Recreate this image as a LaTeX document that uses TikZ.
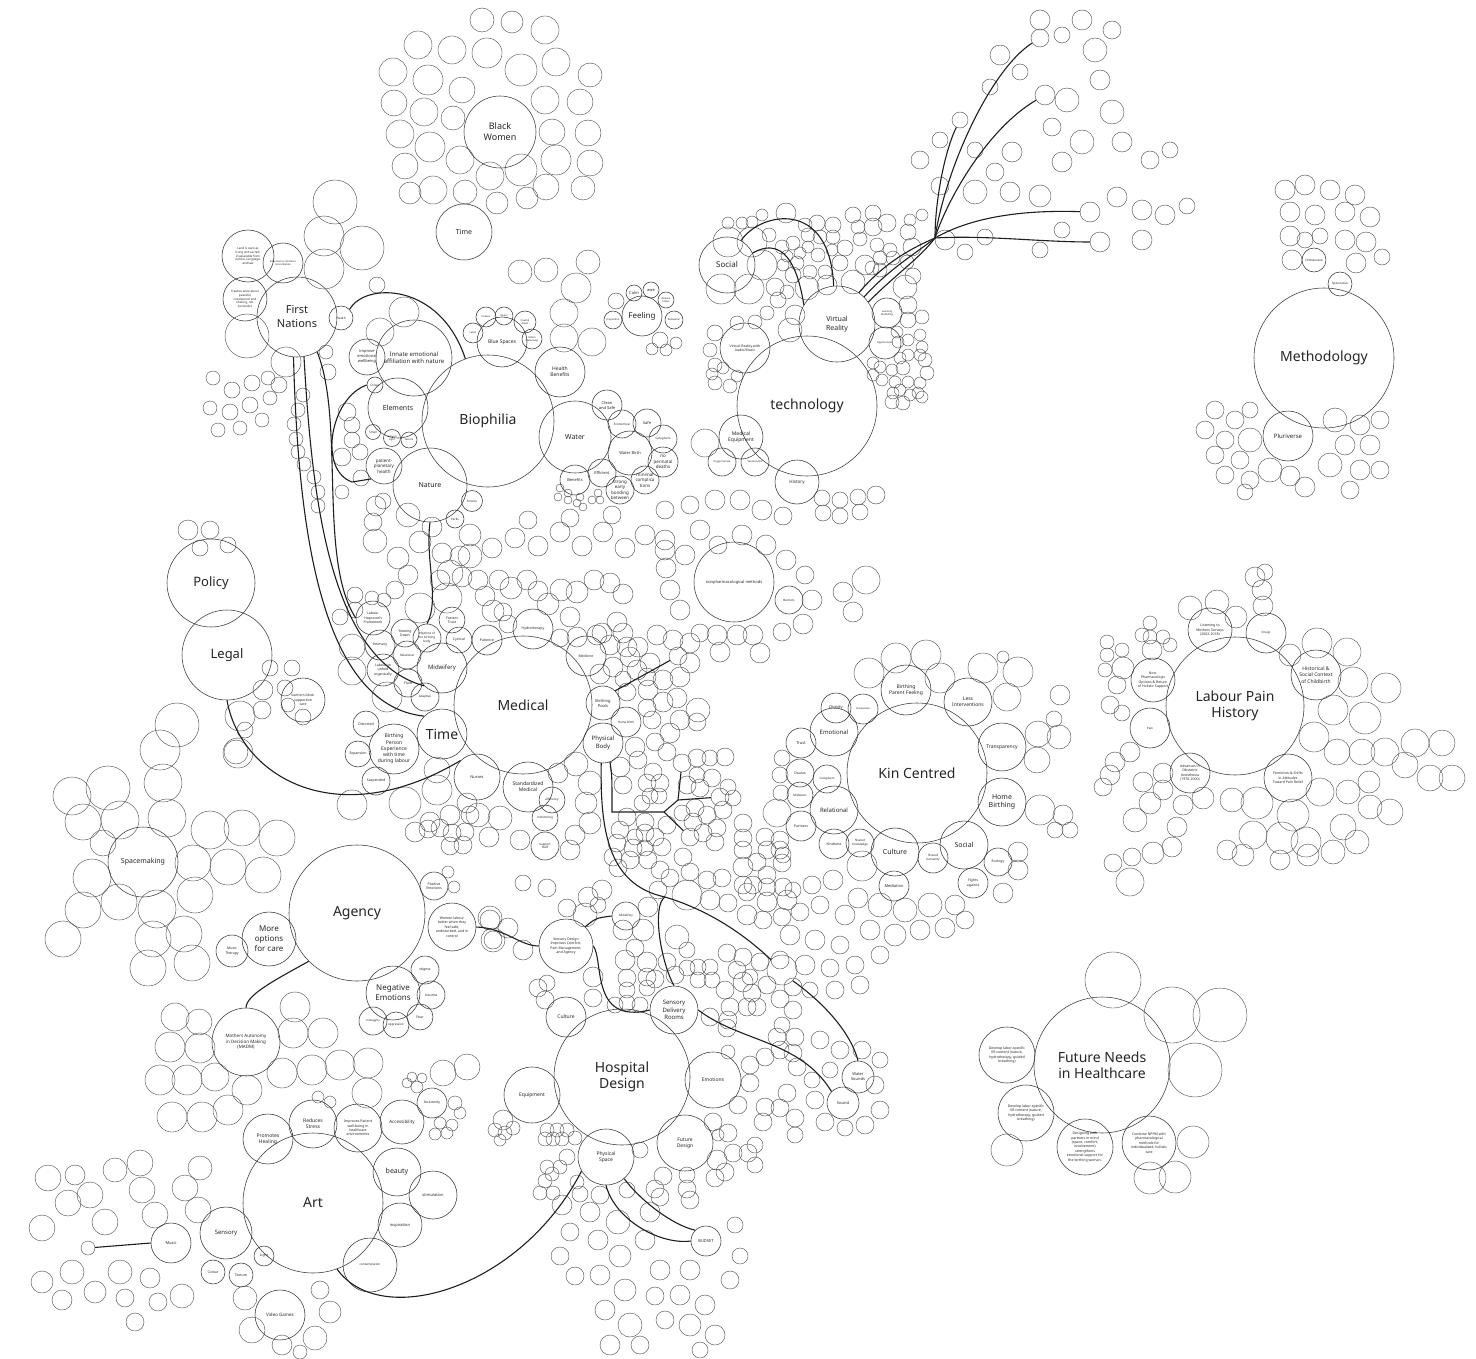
\documentclass[tikz,border=0pt]{standalone}
\usepackage{fontspec}
\setmainfont{Noto Sans}
\begin{document}
\begin{tikzpicture}[x=1pt,y=-1pt,
 bub/.style={circle,draw=black!78,line width=0.55pt,inner sep=0pt,align=center,text=black!85},
 smc/.style={circle,draw=black!72,line width=0.4pt,inner sep=0pt},
 conn/.style={line width=1.1pt,draw=black!88},
 f14/.style={font=\fontsize{14}{16.5}\selectfont},
 f13/.style={font=\fontsize{13}{15.5}\selectfont},
 f11/.style={font=\fontsize{11}{14}\selectfont},
 f9/.style={font=\fontsize{9}{11}\selectfont},
 f8/.style={font=\fontsize{8}{10}\selectfont},
 f7/.style={font=\fontsize{7}{8.6}\selectfont},
 f6/.style={font=\fontsize{6}{7.4}\selectfont},
 f5/.style={font=\fontsize{5}{6.2}\selectfont},
 f45/.style={font=\fontsize{4.5}{5.6}\selectfont},
 f4/.style={font=\fontsize{4}{5}\selectfont},
 f35/.style={font=\fontsize{3.5}{4.4}\selectfont},
 f3/.style={font=\fontsize{3}{3.8}\selectfont},
 f25/.style={font=\fontsize{2.5}{3.1}\selectfont}]
\fill[white] (0,0) rectangle (1476,1359);
\useasboundingbox (0,0) rectangle (1476,1359);

% ---------------- small unlabeled circles ----------------
\foreach \x/\y/\r [count=\i] in {482/20/12,512/22/11,545/30/14,418/45/14,452/50/14,487/53/15,521/70/16,556/62/14,590/75/12,393/72/14,428/80/15,462/90/13,394/103/13,424/112/14,453/118/12,545/100/14,580/102/13,400/134/14,430/147/15,460/160/14,490/176/14,521/170/16,552/132/13,556/160/15,588/133/13,590/163/13,405/166/13,465/192/12,410/193/11,546/187/13,583/188/12,497/203/11,527/198/11,433/190/14}
  \node[smc,minimum size=2*\r] (bw\i) at (\x,\y) {};
\foreach \x/\y/\r [count=\i] in {335/202/22,324/236/20,362/248/22,324/269/20,377/285/8,404/312/15,380/332/14,326/352/7,328/372/8,279/385/8,213/378/7,232/390/8,252/383/8,268/378/7,270/398/7,250/405/8,230/412/8,210/408/7,262/420/7,240/428/7,218/430/7,286/362/15,247/336/22,303/395/7,298/410/7,294/424/7,296/439/7,298/452/7,304/464/7,314/477/7,318/492/7,318/506/7,347/412/9,352/425/8,352/440/8,342/457/9,360/452/8,361/478/8,383/501/8,342/492/7}
  \node[smc,minimum size=2*\r] (fa\i) at (\x,\y) {};
\foreach \x/\y/\r [count=\i] in {376/506/10,373/522/9,408/515/12,432/527/10,375/541/12,398/558/11,420/542/11,442/553/10,408/575/10,440/580/10,470/556/12,462/577/10,395/590/9,616/301/8,660/340/8,676/343/6,652/349/6,666/350/6,576/288/15,564/313/14,564/338/14,592/342/14,520/272/12,546/270/12,588/262/12,560/488/4,568/493/4,568/500/4,580/497/4,577/503/4,583/507/4,592/500/4,600/500/4,598/493/4,558/497/4}
  \node[smc,minimum size=2*\r] (bb\i) at (\x,\y) {};
% medical grid
\foreach \x/\y/\r [count=\i] in {450/573/13,447/598/15,420/608/15,478/580/10,485/596/10,493/611/11,499/580/10,511/588/11,527/580/10,538/591/10,548/604/11,561/590/11,577/592/11,594/580/10,610/583/10,623/594/10,570/617/10,577/637/10,560/638/9,602/633/10,617/622/10,627/647/10,613/667/10,600/674/10,623/679/8,508/624/9,503/612/9,470/535/11,492/548/10,515/538/10,538/546/10,560/532/10,582/546/10,603/532/10,625/548/10,645/535/10,665/550/10,528/520/9,570/518/9,612/515/9,460/556/10,355/595/8,372/598/7,384/600/7,355/610/8,340/617/8,352/647/13,352/671/14,387/697/15}
  \node[smc,minimum size=2*\r] (mg\i) at (\x,\y) {};
\foreach \x/\y/\r [count=\i] in {597/635/10,610/645/10,623/633/10,638/647/10,630/657/10,650/663/10,637/670/10,647/677/9,663/680/10,680/677/10,657/635/10,673/640/10,690/643/10,700/633/9,717/635/10,737/635/10,753/635/10,760/653/10,720/652/10,690/663/10,627/692/9,648/690/10,663/702/10,677/698/10,647/708/9,698/710/12,680/720/10,697/722/9,652/720/9,670/733/10,655/742/9,667/752/9,635/747/10,638/760/9,653/772/9,620/767/10,660/783/9,647/783/9,623/785/9,650/796/8,642/803/8,659/796/8}
  \node[smc,minimum size=2*\r] (mr\i) at (\x,\y) {};
\foreach \x/\y/\r [count=\i] in {682/763/9,697/758/9,710/758/8,725/757/9,687/785/9,700/788/9,697/775/8,712/778/9,720/797/9,728/787/8,733/798/8,723/810/9,682/813/8,695/808/9,707/815/9,693/822/9,690/837/9,703/833/9,717/828/9,715/842/9,627/817/9,645/822/9,667/825/9,645/833/9,620/830/9,635/837/8,655/837/9,617/843/9,633/848/9,645/848/8,662/847/9,613/857/9,630/860/9,648/860/9,618/868/9,683/857/9,690/872/9,660/870/9,670/878/9,707/880/9,722/878/9,743/823/9,743/838/9,743/850/9,743/867/10,743/885/9,765/837/9,767/850/9,780/850/9,757/862/9,767/875/9,753/885/9,767/887/9,782/863/9,783/887/9,793/890/8}
  \node[smc,minimum size=2*\r] (te\i) at (\x,\y) {};
% below time / around nurses / agency
\foreach \x/\y/\r [count=\i] in {352/805/15,405/803/16,437/770/13,437/790/15,467/803/10,478/815/12,500/818/12,450/815/10,430/822/10,415/832/10,520/840/10,570/850/10,575/835/10,576/764/12,558/773/10,590/783/12,586/803/11,590/823/11,428/829/9,440/828/9,452/833/9,465/832/9,463/845/9,450/846/9,470/815/9,489/837/10,448/872/6,454/887/6,490/918/12,493/940/12,188/530/10,210/530/9,200/548/8,228/545/8,263/690/10,285/688/8,262/710/9,236/752/12,245/730/8,292/668/8,270/668/8}
  \node[smc,minimum size=2*\r] (bt\i) at (\x,\y) {};
% kin centred surroundings
\foreach \x/\y/\r [count=\i] in {869/673/15,896/658/15,926/655/15,940/678/15,983/668/15,1003/657/6,1018/672/15,1007/697/14,1060/695/10,1054/719/8,1059/737/12,1038/734/13,1037/760/13,1040/810/15,1063/815/10,1055/830/8,1070/830/8,1018/852/10,1018/870/10,1003/893/10,862/866/15,782/758/8,780/775/8,781/793/8,777/813/14,780/840/9,783/855/8,812/885/9,833/880/10,858/898/10,880/905/12,905/910/12,930/905/12,955/905/10,845/915/10,820/905/9,800/912/9,870/930/10,895/935/11,920/930/10,945/928/10,965/920/9,790/935/10,815/940/10,840/945/9,780/960/9,805/965/10,830/968/9,855/965/9,880/955/9,860/985/9,835/990/9,810/990/8}
  \node[smc,minimum size=2*\r] (ks\i) at (\x,\y) {};
% nonpharmacological cluster
\foreach \x/\y/\r [count=\i] in {665/540/10,685/555/10,700/530/10,718/545/9,742/535/10,766/545/10,786/560/10,805/575/9,812/600/10,803/624/10,782/632/9,680/610/10,670/590/10,666/568/10,665/510/9,690/505/9,715/500/10,740/500/10,762/510/10,783/516/9,866/580/14,843/592/10,853/612/10}
  \node[smc,minimum size=2*\r] (np\i) at (\x,\y) {};
% sensory design / delivery cluster
\foreach \x/\y/\r [count=\i] in {523/883/8,547/888/9,490/920/10,508/928/10,493/940/9,523/950/10,585/915/12,567/908/9,588/897/10,602/890/10,598/905/8,623/930/10,643/930/11,648/907/10,658/890/9,635/948/9,625/960/10,647/962/10,627/978/9,647/977/9,627/990/8,647/988/8,615/1005/8,627/1003/8,640/1005/8,655/979/9,593/977/10,593/998/9,538/988/9,547/983/8,545/1000/9,667/962/9,677/937/12,687/950/8,675/975/9,687/968/8,698/967/8,710/967/8,698/980/8,712/980/8,725/990/9,743/982/10,752/993/9,730/1007/9,747/1007/9,728/1020/9,757/1007/9,710/1017/9,727/1028/9,687/895/15,710/900/10,728/903/9,747/892/9,747/915/10,767/902/10,787/900/10,782/917/9,763/920/9,727/953/9,743/957/9,760/962/9,737/970/9,750/977/8,767/985/9,793/987/9,780/999/9,793/1010/9,777/1037/9,782/1025/8,795/1037/9,780/1050/9,793/1053/9,797/1067/9,765/1057/9,787/1093/9,780/1108/9,765/1107/9,763/1122/9,795/1118/9,795/1135/8,820/1040/9,840/1050/9,862/1050/9,880/1060/8,875/1085/9,880/1110/9,865/1125/9,845/1128/8,825/1122/9,815/1100/9,812/1080/8,830/1070/8}
  \node[smc,minimum size=2*\r] (sc\i) at (\x,\y) {};
% hospital lower
\foreach \x/\y/\r [count=\i] in {503/1120/10,495/1130/7,505/1133/7,513/1128/7,500/1140/6,547/1130/7,557/1130/7,567/1130/7,545/1139/7,553/1139/7,562/1139/7,575/1138/7,567/1157/8,560/1167/7,547/1167/7,552/1174/7,545/1181/7,577/1182/7,580/1194/8,540/1193/7,553/1193/7,640/1150/8,713/1122/9,728/1133/9,718/1135/6,728/1052/7,750/1065/9,750/1083/9,738/1105/9,717/1160/10,733/1153/9,748/1153/9,755/1165/8,755/1145/8,725/1172/9,715/1178/9,687/1175/8,687/1189/9,663/1176/9,655/1189/9,660/1197/9,690/1200/9,627/1190/8,600/1195/9,562/1205/10,590/1212/10,618/1222/12,598/1240/10,620/1256/11,600/1275/10,625/1290/11,605/1310/10,630/1325/12,610/1345/10,640/1345/9,570/1232/9,560/1256/9,575/1276/9,650/1212/10,660/1270/10,690/1270/10,680/1295/10,705/1305/10,690/1325/11,715/1335/10,665/1320/9,700/1350/8,730/1280/9,740/1256/8,735/1225/8,655/1296/9,645/1240/10}
  \node[smc,minimum size=2*\r] (hl\i) at (\x,\y) {};
% art surroundings
\foreach \x/\y/\r [count=\i] in {48/1178/13,68/1203/13,42/1228/13,72/1272/12,42/1282/11,90/1195/13,105/1222/13,120/1272/12,95/1292/11,62/1300/10,140/1163/13,142/1190/13,155/1215/13,115/1170/12,185/1188/13,200/1168/12,198/1210/13,75/1175/10,125/1298/9,150/1278/10,135/1322/9,158/1302/9,182/1296/12,245/1298/12,252/1330/13,282/1345/10,315/1338/12,330/1312/11,320/1290/9,300/1352/7}
  \node[smc,minimum size=2*\r] (ar\i) at (\x,\y) {};
% mothers autonomy cluster
\foreach \x/\y/\r [count=\i] in {175/1017/14,199/1022/13,170/1047/15,200/1048/15,160/1080/15,187/1080/15,215/1077/14,247/1090/15,228/1110/15,172/1117/15,202/1117/15,295/1007/15,293/1033/15,323/1033/15,282/1073/15,312/1070/15,340/1065/15,368/1063/15,367/1093/15,318/1097/6,330/1102/6,443/1073/13,467/1067/13,412/1077/5,422/1078/5,417/1087/6,407/1083/5,455/1103/7,460/1113/6,440/1123/6,452/1125/6,435/1134/6,447/1133/6}
  \node[smc,minimum size=2*\r] (ma\i) at (\x,\y) {};
% spacemaking cluster
\foreach \x/\y/\r [count=\i] in {177/725/22,240/716/15,238/753/15,160/750/20,163/783/19,167/818/19,108/788/22,72/796/19,120/820/19,83/822/18,103/843/13,210/830/19,242/828/18,277/838/18,193/863/18,228/867/18,263/875/18,195/895/18,92/878/19,119/902/18,83/910/18,157/909/19,63/939/18,153/939/18,184/934/18,148/968/18,192/963/18,288/705/7,303/717/8}
  \node[smc,minimum size=2*\r] (sp\i) at (\x,\y) {};
% technology cluster
\foreach \x/\y/\r [count=\i] in {786/213/10,762/215/6,752/222/6,742/223/6,728/223/6,769/235/7,805/225/7,817/223/8,833/225/8,808/235/7,820/237/7,833/237/7,793/243/7,782/247/7,800/253/6,787/256/6,818/255/7,808/247/6,797/263/7,783/265/6,810/272/7,793/275/8,825/272/7,840/263/8,845/248/8,832/250/6,865/265/10,853/282/12,827/285/10,807/288/12,775/287/9,778/300/8,787/292/7,795/315/10,767/313/7,790/330/12,853/215/8,873/213/8,873/227/9,887/223/9,858/227/7,860/239/7,877/245/7,890/250/7,880/258/7,893/258/7,872/268/7,880/270/7,905/287/12,913/276/8,907/262/7,908/232/8,922/215/6,910/220/6,912/247/9,908/305/9,908/320/8,922/317/7,897/332/6,898/342/6,908/340/6,920/335/6,922/347/6,920/355/6,908/355/6,900/358/6,903/368/7,892/370/6,880/367/6,873/363/6,873/375/6,882/380/6,895/382/6,908/382/6,920/383/6,918/393/6,910/395/6,900/390/6,893/393/6,892/402/7,903/403/7,922/397/6,925/360/7,927/373/7,737/323/7,755/322/7,715/333/8,710/350/7,715/365/7,723/368/6,712/374/6,715/383/7,730/386/7,737/376/6,705/443/14,822/498/8,840/500/8,858/497/8,876/495/9,860/512/8,840/516/8,823/513/8,728/242/15,752/242/15,762/265/15,749/289/15,721/289/15}
  \node[smc,minimum size=2*\r] (tc\i) at (\x,\y) {};
% tree (top right)
\foreach \x/\y/\r [count=\i] in {1040/20/10,1062/35/8,1082/20/10,1095/50/12,1112/30/9,1000/55/10,1020/72/8,990/87/8,1067/100/12,1100/80/10,1112/112/12,1052/127/9,1082/142/12,1122/142/10,1150/160/9,1170/150/8,1062/162/10,1012/152/10,995/172/9,975/150/8,940/140/8,920/160/9,940/186/9,975/192/12,1010/192/10,1040/196/11,1117/197/10,1142/210/10,1165/215/10,1187/206/8,1142/240/10,1062/230/8,1040/250/8,945/240/10,965/252/8,985/237/8}
  \node[smc,minimum size=2*\r] (tt\i) at (\x,\y) {};
\node[smc,minimum size=20] (te1a) at (1045,95) {};
\node[smc,minimum size=20] (te2a) at (1090,212) {};
\node[smc,minimum size=20] (te3a) at (1100,242) {};
\node[smc,minimum size=18] (te4a) at (1040,38) {};
\node[smc,minimum size=16] (te5a) at (960,120) {};
% labour pain cluster
\foreach \x/\y/\r [count=\i] in {1255/577/10,1265/572/8,1262/590/10,1263/606/10,1190/608/12,1217/602/12,1236/617/11,1290/655/11,1317/643/15,1347/652/14,1353/682/15,1386/688/15,1333/710/15,1365/718/16,1314/737/15,1337/752/13,1362/752/13,1385/752/14,1415/743/14,1442/743/13,1405/765/13,1430/778/13,1452/778/13,1320/792/14,1348/792/12,1369/782/11,1370/807/12,1390/812/13,1343/827/13,1357/842/12,1333/852/12,1306/842/15,1282/838/16,1293/815/16,1257/803/16,1253/835/14,1232/800/12,1243/855/11,1280/860/10,1308/855/11,1227/850/10,1150/637/7,1142/635/7,1163/637/7,1150/623/7,1170/645/7,1152/650/10,1107/642/7,1122/650/7,1107/655/7,1123/668/11,1105/670/7,1117/685/9,1110/705/9,1122/713/8,1130/752/10,1115/762/10,1110/775/10,1103/787/9,1163/773/10,1143/782/10,1163/790/10,1150/803/11,1183/805/10,1203/798/11,1177/827/10,1135/820/12,1172/847/10,1153/853/11,1132/857/9,1113/863/9,1130/882/14}
  \node[smc,minimum size=2*\r] (lp\i) at (\x,\y) {};
% methodology clusters
\foreach \x/\y/\r [count=\i] in {1285/190/10,1305/185/10,1330/190/10,1355/195/10,1290/212/10,1315/215/10,1345/212/10,1370/217/10,1290/236/10,1292/260/10,1345/240/10,1366/242/10,1382/257/8,1356/263/10,1305/240/8,1320/236/8,1215/410/9,1235/420/9,1250/410/8,1205/430/9,1225/440/9,1250/440/12,1215/455/9,1240/460/9,1225/475/9,1250/480/9,1270/470/12,1245/492/8,1335/420/12,1360/425/10,1380/420/9,1345/445/10,1370/445/10,1330/465/12,1360/470/10,1380/470/9,1350/490/9,1305/487/10,1290/476/10}
  \node[smc,minimum size=2*\r] (me\i) at (\x,\y) {};
% future needs surroundings
\foreach \x/\y/\r [count=\i] in {1113/980/28,1172/1015/28,1220/1015/27,1195/1070/27,1007/1150/16,1193/1142/16,1150/1178/16,1175/1177/16}
  \node[smc,minimum size=2*\r] (fu\i) at (\x,\y) {};

% ---------------- main and labelled circles ----------------
\node[bub,minimum size=72,f9] (bw) at (500,132) {Black\\Women};
\node[bub,minimum size=56,f7] (timetop) at (464,232) {Time};
\node[bub,minimum size=80,f11] (fn) at (297,317) {First\\Nations};
\node[bub,minimum size=24,f3] (health) at (341,318) {Health};
\node[bub,minimum size=52,f3] (land) at (248,256) {Land is seen as\\living and sacred,\\inseparable from\\culture, language,\\and law};
\node[bub,minimum size=44,f3] (treaties) at (245,299) {Treaties were about\\peaceful\\coexistence and\\sharing, not\\surrender};
\node[bub,minimum size=40,f25] (educ) at (283,263) {Education is central to\\reconciliation};

\node[bub,minimum size=132,f14] (bio) at (488,421) {Biophilia};
\node[bub,minimum size=76,f6] (innate) at (414,358) {Innate emotional\\affiliation with nature};
\node[bub,minimum size=36,f4] (improve) at (367,357) {improve\\emotional\\wellbeing};
\node[bub,minimum size=60,f7] (elements) at (398,408) {Elements};
\node[bub,minimum size=16,f3] (colour) at (375,385) {Colour};
\node[bub,minimum size=15,f3] (smell) at (373,432) {Smell};
\node[bub,minimum size=17,f25] (natlight) at (392,438) {Natural\\Light};
\node[bub,minimum size=16,f25] (texture) at (409,440) {Texture};
\node[bub,minimum size=36,f45] (patient) at (384,466) {patient-\\planetary\\health};
\node[bub,minimum size=74,f7] (nature) at (430,485) {Nature};
\node[bub,minimum size=21,f3] (forests) at (472,501) {Forests};
\node[bub,minimum size=18,f3] (parks) at (455,519) {Parks};
\node[bub,minimum size=50,f5] (bluesp) at (502,342) {Blue Spaces};
\node[bub,minimum size=20,f25] (lakes) at (473,333) {Lakes};
\node[bub,minimum size=20,f25] (oceans) at (486,317) {Oceans};
\node[bub,minimum size=18,f25] (rivers) at (504,316) {Rivers};
\node[bub,minimum size=22,f25] (coastal) at (525,322) {Coastal\\Areas};
\node[bub,minimum size=20,f25] (urbanw) at (532,339) {Urban\\Waterways};
\node[bub,minimum size=50,f5] (hb) at (560,372) {Health\\Benefits};
\node[bub,minimum size=72,f7] (water) at (575,437) {Water};
\node[bub,minimum size=30,f4] (clean) at (607,405) {Clean\\and Safe};
\node[bub,minimum size=28,f3] (econ) at (622,424) {Economical};
\node[bub,minimum size=28,f4] (safe) at (647,423) {Safe};
\node[bub,minimum size=28,f3] (caregivers) at (663,439) {Caregivers};
\node[bub,minimum size=44,f4] (wbirth) at (630,453) {Water Birth};
\node[bub,minimum size=30,f45] (noperi) at (663,462) {no\\perinatal\\deaths};
\node[bub,minimum size=28,f45] (minimal) at (645,480) {minimal\\complica\\tions};
\node[bub,minimum size=28,f4] (efficient) at (602,473) {Efficient};
\node[bub,minimum size=28,f45] (strong) at (620,490) {strong\\early\\bonding\\between};
\node[bub,minimum size=30,f4] (benefits) at (575,480) {Benefits};
\node[bub,minimum size=40,f8] (feeling) at (642,316) {Feeling};
\node[bub,minimum size=16,f4] (calm) at (634,293) {Calm};
\node[bub,minimum size=16,f4] (awe) at (651,290) {awe};
\node[bub,minimum size=16,f25] (reduce) at (666,300) {Reduce\\Stress};
\node[bub,minimum size=18,f25] (relax) at (674,320) {Relaxation};
\node[bub,minimum size=18,f25] (inspir) at (613,320) {Inspiration};

\node[bub,minimum size=140,f14] (tech) at (807,406) {technology};
\node[bub,minimum size=76,f7] (vr) at (837,324) {Virtual\\Reality};
\node[bub,minimum size=56,f8] (social) at (727,265) {Social};
\node[bub,minimum size=50,f35] (vram) at (745,348) {Virtual Reality with\\Audio/Music};
\node[bub,minimum size=44,f5] (medeq) at (741,437) {Medical\\Equipment};
\node[bub,minimum size=28,f25] (trigger) at (722,462) {Trigger Senses};
\node[bub,minimum size=28,f25] (sensit) at (755,462) {Sensitization};
\node[bub,minimum size=44,f45] (history) at (797,482) {History};
\node[bub,minimum size=30,f25] (learn) at (887,313) {Learning\\Modelling};
\node[bub,minimum size=32,f25] (opport) at (885,343) {Opportunities};

\node[bub,minimum size=140,f14] (meth) at (1324,358) {Methodology};
\node[bub,minimum size=50,f6] (pluri) at (1288,436) {Pluriverse};
\node[bub,minimum size=24,f3] (specul) at (1340,284) {Speculative};
\node[bub,minimum size=24,f3] (chthu) at (1314,260) {Chthulucene};

\node[bub,minimum size=88,f13] (policy) at (211,583) {Policy};
\node[bub,minimum size=90,f13] (legal) at (227,655) {Legal};

\node[bub,minimum size=138,f14] (lph) at (1235,706) {Labour Pain\\History};
\node[bub,minimum size=44,f35] (listen) at (1210,630) {Listening to\\Mothers Surveys\\(2002-2018)};
\node[bub,minimum size=40,f3] (drugs) at (1266,633) {Drugs};
\node[bub,minimum size=50,f5] (histc) at (1316,675) {Historical \&\\Social Context\\of Childbirth};
\node[bub,minimum size=44,f35] (nonph) at (1153,680) {Non-\\Pharmacologic\\Options \& Return\\of Holistic Support};
\node[bub,minimum size=40,f3] (pain) at (1150,728) {Pain};
\node[bub,minimum size=40,f35] (adv) at (1190,773) {Advances in\\Obstetric\\Anesthesia\\(1970-2000)};
\node[bub,minimum size=48,f35] (fem) at (1288,778) {Feminism \& Shifts\\in Attitudes\\Toward Pain Relief};

\node[bub,minimum size=140,f14] (kin) at (917,773) {Kin Centred};
\node[bub,minimum size=50,f5] (bpf) at (906,690) {Birthing\\Parent Feeling};
\node[bub,minimum size=48,f5] (less) at (968,702) {Less\\Interventions};
\node[bub,minimum size=48,f5] (transp) at (1002,747) {Transparency};
\node[bub,minimum size=48,f7] (home) at (1002,802) {Home\\Birthing};
\node[bub,minimum size=48,f7] (social2) at (964,845) {Social};
\node[bub,minimum size=48,f7] (culture) at (895,852) {Culture};
\node[bub,minimum size=48,f6] (relational) at (834,810) {Relational};
\node[bub,minimum size=48,f6] (emotional) at (834,732) {Emotional};
\node[bub,minimum size=30,f4] (trust) at (801,743) {Trust};
\node[bub,minimum size=30,f4] (dignity) at (836,708) {Dignity};
\node[bub,minimum size=30,f25] (compassion) at (863,709) {Compassion};
\node[bub,minimum size=28,f35] (doulas) at (800,773) {Doulas};
\node[bub,minimum size=28,f3] (caregiv2) at (827,779) {Caregivers};
\node[bub,minimum size=26,f3] (midwives) at (800,795) {Midwives};
\node[bub,minimum size=30,f35] (partners) at (801,826) {Partners};
\node[bub,minimum size=30,f35] (kindness) at (834,844) {Kindness};
\node[bub,minimum size=28,f3] (sharedk) at (860,843) {Shared\\Knowledge};
\node[bub,minimum size=30,f4] (mediation) at (894,886) {Mediation};
\node[bub,minimum size=30,f3] (sharedh) at (933,858) {Shared\\humanity};
\node[bub,minimum size=28,f35] (ecology) at (998,862) {Ecology};
\node[bub,minimum size=30,f35] (fights) at (973,883) {Fights\\against};

\node[bub,minimum size=80,f4] (nonpharm) at (734,582) {nonpharmacological methods};
\node[bub,minimum size=28,f3] (barriers) at (789,600) {Barriers};

\node[bub,minimum size=138,f14] (medical) at (523,705) {Medical};
\node[bub,minimum size=50,f14] (time) at (442,734) {Time};
\node[bub,minimum size=50,f5] (bpe) at (394,749) {Birthing\\Person\\Experience\\with time\\during labour};
\node[bub,minimum size=26,f35] (distorted) at (366,724) {Distorted};
\node[bub,minimum size=26,f35] (expansion) at (358,754) {Expansion};
\node[bub,minimum size=28,f35] (suspended) at (376,781) {Suspended};
\node[bub,minimum size=50,f6] (midw) at (442,668) {Midwifery};
\node[bub,minimum size=46,f4] (nurses) at (477,777) {Nurses};
\node[bub,minimum size=50,f5] (stdmed) at (528,787) {Standardized\\Medical};
\node[bub,minimum size=40,f35] (hydro) at (533,629) {Hydrotherapy};
\node[bub,minimum size=30,f35] (patience) at (487,640) {Patience};
\node[bub,minimum size=40,f35] (medicine) at (586,656) {Medicine};
\node[bub,minimum size=34,f4] (bpools) at (603,703) {Birthing\\Pools};
\node[bub,minimum size=40,f6] (pbody) at (603,743) {Physical\\Body};
\node[bub,minimum size=30,f3] (homeb) at (626,722) {Home Birth};
\node[bub,minimum size=26,f35] (fosters) at (452,620) {Fosters\\Trust};
\node[bub,minimum size=26,f35] (cyclical) at (459,640) {Cyclical};
\node[bub,minimum size=28,f3] (rhythms) at (427,638) {Rhythms of\\the birthing\\body};
\node[bub,minimum size=28,f35] (slowing) at (405,633) {Slowing\\Down};
\node[bub,minimum size=34,f35] (hop) at (373,618) {Labour\\Hopscotch\\Framework};
\node[bub,minimum size=30,f35] (intimacy) at (380,645) {Intimacy};
\node[bub,minimum size=28,f3] (relat2) at (407,655) {Relational};
\node[bub,minimum size=32,f35] (unfold) at (383,670) {Labour to\\unfold\\organically};
\node[bub,minimum size=28,f35] (fluid) at (408,683) {Fluid};
\node[bub,minimum size=28,f3] (adaptive) at (425,697) {Adaptive};
\node[bub,minimum size=26,f3] (efficiency) at (552,800) {efficiency};
\node[bub,minimum size=26,f3] (monitoring) at (545,818) {monitoring};
\node[bub,minimum size=28,f3] (support) at (545,846) {Support\\Staff};
\node[bub,minimum size=44,f35] (barrbl) at (303,700) {barriers block\\supportive\\care};
\node[smc,minimum size=18] (bpl) at (678,656) {};

\node[bub,minimum size=136,f14] (agency) at (357,913) {Agency};
\node[bub,minimum size=54,f8] (more) at (269,939) {More\\options\\for care};
\node[bub,minimum size=32,f35] (music) at (232,951) {Music\\Therapy};
\node[bub,minimum size=28,f35] (posemo) at (434,886) {Positive\\Emotions};
\node[bub,minimum size=48,f35] (women) at (452,927) {Women labour\\better when they\\feel safe,\\undisturbed, and in\\control};
\node[bub,minimum size=54,f8] (negemo) at (393,993) {Negative\\Emotions};
\node[bub,minimum size=28,f35] (stigma) at (425,970) {stigma};
\node[bub,minimum size=28,f35] (trauma) at (431,995) {trauma};
\node[bub,minimum size=26,f35] (fear) at (420,1017) {Fear};
\node[bub,minimum size=26,f3] (oppression) at (396,1025) {oppression};
\node[bub,minimum size=28,f3] (misogyny) at (373,1021) {misogyny};
\node[bub,minimum size=70,f7] (space) at (143,862) {Spacemaking};
\node[bub,minimum size=68,f45] (madm) at (246,1042) {Mothers Autonomy\\in Decision Making\\(MADM)};

\node[bub,minimum size=140,f14] (art) at (313,1203) {Art};
\node[bub,minimum size=50,f5] (promotes) at (268,1139) {Promotes\\Healing};
\node[bub,minimum size=48,f5] (reduces) at (313,1124) {Reduces\\Stress};
\node[bub,minimum size=48,f35] (improves) at (358,1128) {Improves Patient\\well-being in\\healthcare\\environments};
\node[bub,minimum size=44,f45] (access) at (402,1122) {Accessibility};
\node[bub,minimum size=30,f35] (inclus) at (432,1103) {Inclusivity};
\node[bub,minimum size=48,f7] (beauty) at (397,1172) {beauty};
\node[bub,minimum size=48,f4] (stim) at (433,1195) {stimulation};
\node[bub,minimum size=44,f4] (inspir2) at (400,1225) {inspiration};
\node[bub,minimum size=54,f3] (contemp) at (370,1265) {contemplation};
\node[bub,minimum size=52,f6] (sensory) at (226,1233) {Sensory};
\node[bub,minimum size=40,f4] (musicA) at (171,1243) {Music};
\node[bub,minimum size=24,f35] (colourA) at (213,1272) {Colour};
\node[bub,minimum size=24,f35] (textureA) at (241,1275) {Texture};
\node[bub,minimum size=20,f35] (light) at (264,1256) {Light};
\node[bub,minimum size=50,f45] (videog) at (280,1315) {Video Games};
\node[smc,minimum size=14] (ml1) at (88,1248) {};

\node[bub,minimum size=136,f14] (hosp) at (622,1077) {Hospital\\Design};
\node[bub,minimum size=48,f6] (sdr) at (674,1010) {Sensory\\Delivery\\Rooms};
\node[bub,minimum size=40,f5] (cultureH) at (566,1017) {Culture};
\node[bub,minimum size=56,f5] (equip) at (532,1095) {Equipment};
\node[bub,minimum size=56,f5] (emotionsH) at (713,1080) {Emotions};
\node[bub,minimum size=56,f5] (future) at (685,1143) {Future\\Design};
\node[bub,minimum size=56,f5] (physsp) at (606,1157) {Physical\\Space};
\node[bub,minimum size=54,f35] (sensd) at (566,946) {Sensory Design\\Improves Comfort,\\Pain Management,\\and Agency};
\node[bub,minimum size=28,f3] (midwH) at (626,916) {Midwifery};
\node[bub,minimum size=32,f4] (sound) at (843,1103) {Sound};
\node[bub,minimum size=32,f4] (wsounds) at (858,1077) {Water\\Sounds};
\node[bub,minimum size=30,f4] (budset) at (706,1241) {BUDSET};
\node[smc,minimum size=30] (sjc) at (782,970) {};

\node[bub,minimum size=136,f14] (fut) at (1102,1065) {Future Needs\\in Healthcare};
\node[bub,minimum size=56,f35] (vr1) at (1007,1055) {Develop labor-specific\\VR content (nature,\\hydrotherapy, guided\\breathing)};
\node[bub,minimum size=56,f35] (vr2) at (1026,1113) {Develop labor-specific\\VR content (nature,\\hydrotherapy, guided\\breathing)};
\node[bub,minimum size=56,f35] (design) at (1085,1147) {Designing with\\partners in mind\\(space, comfort,\\involvement)\\strengthens\\emotional support for\\the birthing woman.};
\node[bub,minimum size=54,f35] (combine) at (1149,1143) {Combine NPPM with\\pharmacological\\methods for\\individualized, holistic\\care};

% ---------------- connectors ----------------
\coordinate (lp1) at (352,482);
\coordinate (j1) at (935,238);
\coordinate (tb1) at (612,812);
\coordinate (tb2) at (664,812);
\coordinate (tb3) at (678,800);
\coordinate (tk1) at (665,897);
\draw[conn] (health.north east) .. controls (365,282) and (440,282) .. (bio.110);
\draw[conn] (colour.west) .. controls (330,398) and (318,470) .. (lp1) -- (patient.south west);
\draw[conn] (fn.265) .. controls (298,520) and (318,705) .. (time.north west);
\draw[conn] (fn.280) .. controls (312,500) and (330,660) .. (midw.south west);
\draw[conn] (fn.300) .. controls (345,420) and (318,560) .. (hop.west);
\draw[conn] (nature.south) .. controls (425,560) and (440,600) .. (rhythms.north);
\draw[conn] (legal.south) .. controls (240,775) and (335,835) .. (nurses.north west);
\draw[conn] (bpools.north east) -- (bpl);
\draw[conn] (pbody.290) .. controls (612,775) .. (tb1) -- (tb2) -- (tb3) -- (te1);
\draw[conn] (tb3) -- (te9);
\draw[conn] (tb2) -- (te17);
\draw[conn] (pbody.265) .. controls (600,830) and (608,885) .. (tk1) .. controls (715,912) and (750,940) .. (sjc);
\draw[conn] (sdr.north) .. controls (660,960) and (652,905) .. (tk1);
\draw[conn] (women.east) .. controls (505,928) and (520,946) .. (sensd.west);
\draw[conn] (sensd.east) .. controls (604,960) and (590,1025) .. (sdr.west);
\draw[conn] (sensd.north east) .. controls (596,918) .. (midwH.west);
\draw[conn] (sdr.east) .. controls (740,1042) and (800,1040) .. (sound.north west);
\draw[conn] (sjc.south east) .. controls (820,1000) and (850,1030) .. (wsounds.north);
\draw[conn] (madm.north) .. controls (246,995) and (275,980) .. (agency.225);
\draw[conn] (art.290) .. controls (380,1330) and (520,1290) .. (physsp.210);
\draw[conn] (physsp.south) .. controls (615,1220) and (660,1245) .. (budset.west);
\draw[conn] (physsp.310) .. controls (640,1200) and (672,1225) .. (budset.north west);
\draw[conn] (musicA.west) -- (ml1);
\draw[conn] (social.60) .. controls (760,212) and (830,198) .. (vr.95);
\draw[conn] (social.25) .. controls (790,232) and (800,282) .. (vr.150);
\draw[conn] (vr.35) .. controls (895,275) and (920,258) .. (j1);
\draw[conn] (vr.45) .. controls (890,268) and (918,252) .. (j1);
\draw[conn] (vr.55) .. controls (885,262) and (912,248) .. (j1);
\draw[conn] (j1) .. controls (945,205) and (985,130) .. (te1a);
\draw[conn] (j1) .. controls (975,215) and (1030,210) .. (te2a);
\draw[conn] (j1) .. controls (985,235) and (1040,242) .. (te3a);
\draw[conn] (j1) .. controls (945,170) and (990,70) .. (te4a);
\draw[conn] (j1) .. controls (935,200) and (945,150) .. (te5a);
\end{tikzpicture}
\end{document}
